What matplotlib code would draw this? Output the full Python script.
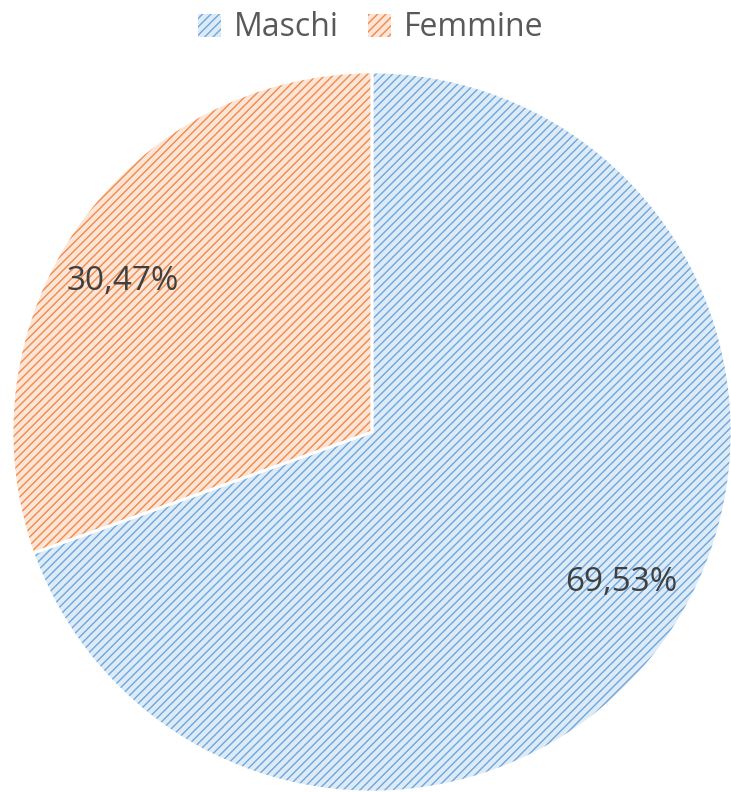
import numpy as np
import matplotlib
matplotlib.use("Agg")
import matplotlib.pyplot as plt
from matplotlib.patches import Patch

categories = ["Maschi", "Femmine"]
values = [69.53, 30.47]
line_colors = ["#6FA5DC", "#F08A48"]
fill_colors = ["#DDEBF7", "#FCE4D6"]

plt.rcParams['font.family'] = ['Open Sans', 'DejaVu Sans']
plt.rcParams['hatch.linewidth'] = 1.0

fig = plt.figure(figsize=(7.31, 7.92), dpi=100)
ax = fig.add_axes([12/731, 0.0, 720/731, 720/792])

def fmt(p):
    return f"{p:.2f}".replace('.', ',') + "%"

wedges, texts, autotexts = ax.pie(values, startangle=90, counterclock=False,
                                  colors=fill_colors, autopct=fmt, pctdistance=0.81,
                                  wedgeprops=dict(linewidth=0),
                                  textprops=dict(fontsize=24, color="#404040"))
for w, lc in zip(wedges, line_colors):
    w.set_hatch("////")
    w.set_edgecolor(lc)
    w.set_linewidth(0)

# place labels slightly rotated, like the reference's label placement
for w, t in zip(wedges, autotexts):
    ang = np.deg2rad((w.theta1 + w.theta2) / 2 + 4)
    t.set_position((0.81 * np.cos(ang), 0.81 * np.sin(ang)))

ax.pie(values, startangle=90, counterclock=False,
       wedgeprops=dict(fill=False, edgecolor="white", linewidth=2))

ax.set_xlim(-1, 1)
ax.set_ylim(-1, 1)
ax.set_aspect('equal')

handles = [Patch(facecolor=fc, edgecolor=lc, hatch="////", linewidth=0)
           for fc, lc in zip(fill_colors, line_colors)]
fig.legend(handles, categories, loc='center', bbox_to_anchor=(0.507, 1 - 28/792),
           ncol=2, frameon=False, fontsize=23, labelcolor="#595959",
           handlelength=0.72, handleheight=0.72, handletextpad=0.4, columnspacing=0.9)

fig.savefig("out.png", dpi=100)
